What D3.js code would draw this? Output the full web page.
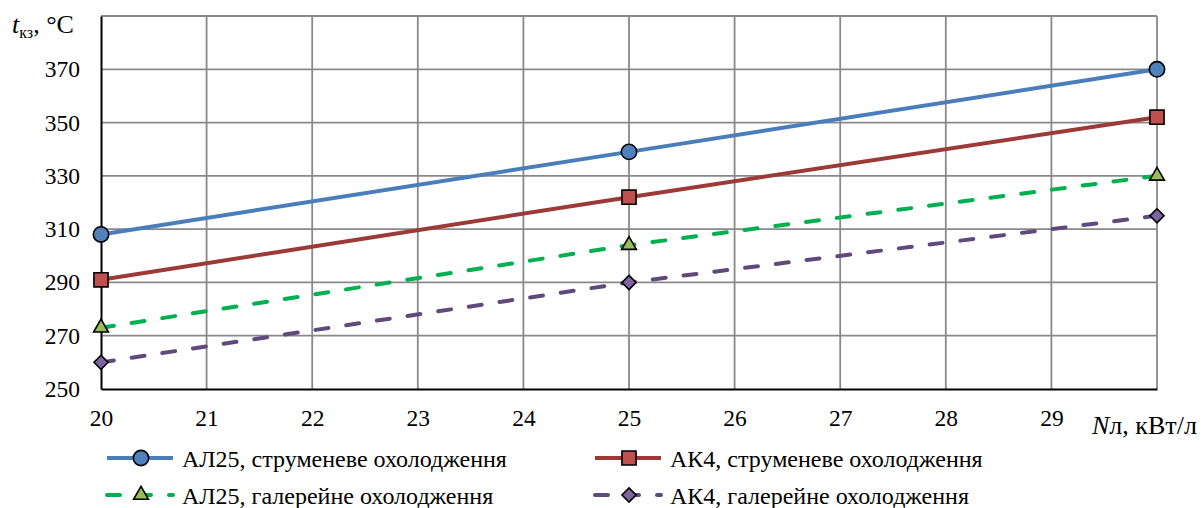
<!DOCTYPE html>
<html>
<head>
<meta charset="utf-8">
<script src="https://cdn.jsdelivr.net/npm/d3@7"></script>
<style>
  html, body { margin: 0; padding: 0; background: #fff; }
  svg text { font-family: "Liberation Serif", "Times New Roman", serif; fill: #000; }
</style>
</head>
<body>
<svg id="chart" width="1203" height="508"></svg>
<script>
// Power per litre, kW/l
const powerValues = [20, 25, 30];
// Piston temperature, °C
const al25Jet = [308, 339, 370];
const ak4Jet = [291, 322, 352];
const al25Gallery = [273, 304, 330];
const ak4Gallery = [260, 290, 315];

const xTicks = [20, 21, 22, 23, 24, 25, 26, 27, 28, 29];
const xGrid = [21, 22, 23, 24, 25, 26, 27, 28, 29, 30];
const yTicks = [250, 270, 290, 310, 330, 350, 370];
const yGrid = [270, 290, 310, 330, 350, 370, 390];

const seriesNames = [
  "АЛ25, струменеве охолодження",
  "АК4, струменеве охолодження",
  "АЛ25, галерейне охолодження",
  "АК4, галерейне охолодження"
];

// Rotated square (equal-diagonal diamond)
const symbolRhomb = {
  draw(context, size) {
    const r = Math.sqrt(size / 2);
    context.moveTo(0, -r);
    context.lineTo(r, 0);
    context.lineTo(0, r);
    context.lineTo(-r, 0);
    context.closePath();
  }
};

const DASH = "13,18";
const series = [
  { name: seriesNames[0], values: al25Jet, line: "#4A7EBB", fill: "#4F81BD", dash: null, symbol: d3.symbolCircle, size: 185 },
  { name: seriesNames[1], values: ak4Jet, line: "#9B3A37", fill: "#C0504D", dash: null, symbol: d3.symbolSquare, size: 200 },
  { name: seriesNames[2], values: al25Gallery, line: "#00B050", fill: "#9BBB59", dash: DASH, symbol: d3.symbolTriangle, size: 95 },
  { name: seriesNames[3], values: ak4Gallery, line: "#604A7B", fill: "#8064A2", dash: DASH, symbol: symbolRhomb, size: 100 }
];

const svg = d3.select("#chart");
const x = d3.scaleLinear().domain([20, 30]).range([101, 1157]);
const y = d3.scaleLinear().domain([250, 390]).range([389, 16]);

// Grid
svg.append("g").selectAll("line").data(yGrid).join("line")
  .attr("x1", x(20)).attr("x2", x(30))
  .attr("y1", d => y(d)).attr("y2", d => y(d))
  .attr("stroke", "#898989").attr("stroke-width", 1.8);
svg.append("g").selectAll("line").data(xGrid).join("line")
  .attr("x1", d => x(d)).attr("x2", d => x(d))
  .attr("y1", y(250)).attr("y2", y(390))
  .attr("stroke", "#898989").attr("stroke-width", 1.8);

// Axes
const yAxis = d3.axisLeft(y).tickValues(yTicks).tickSize(0).tickPadding(21).tickFormat(d3.format("d"));
const gy = svg.append("g").attr("transform", `translate(${x(20)},0)`).call(yAxis);
gy.select(".domain").attr("stroke", "#000").attr("stroke-width", 2);
gy.selectAll("text").attr("font-size", 23.5);

const xAxis = d3.axisBottom(x).tickValues(xTicks).tickSize(0).tickPadding(20).tickFormat(d3.format("d"));
const gx = svg.append("g").attr("transform", `translate(0,${y(250)})`).call(xAxis);
gx.select(".domain").attr("stroke", "#000").attr("stroke-width", 2);
gx.selectAll("text").attr("font-size", 23.5);

// Axis titles
const yTitle = svg.append("text").attr("x", 12).attr("y", 33).attr("font-size", 26);
yTitle.append("tspan").attr("font-style", "italic").text("t");
yTitle.append("tspan").attr("font-size", 16).attr("dy", 5).text("кз");
yTitle.append("tspan").attr("dy", -5).text(", °C");

const xTitle = svg.append("text").attr("x", 1092).attr("y", 434).attr("font-size", 26);
xTitle.append("tspan").attr("font-style", "italic").text("N");
xTitle.append("tspan").text("л, кВт/л");

// Lines and markers
const line = d3.line().x((d, i) => x(powerValues[i])).y(d => y(d));
series.forEach(s => {
  svg.append("path").datum(s.values)
    .attr("d", line)
    .attr("fill", "none")
    .attr("stroke", s.line)
    .attr("stroke-width", 4)
    .attr("stroke-linecap", s.dash ? "round" : "butt")
    .attr("stroke-dasharray", s.dash);
});
series.forEach(s => {
  svg.append("g").selectAll("path").data(s.values).join("path")
    .attr("d", d3.symbol().type(s.symbol).size(s.size))
    .attr("transform", (d, i) => `translate(${x(powerValues[i])},${y(d)})`)
    .attr("fill", s.fill)
    .attr("stroke", "#000")
    .attr("stroke-width", 1.6);
});

// Legend
const legendPos = [[105, 458], [593, 458], [105, 495], [593, 495]];
series.forEach((s, i) => {
  const [lx, ly] = legendPos[i];
  const g = svg.append("g").attr("transform", `translate(${lx},${ly})`);
  g.append("line").attr("x1", 2).attr("x2", 68).attr("y1", 0).attr("y2", 0)
    .attr("stroke", s.line).attr("stroke-width", 4)
    .attr("stroke-linecap", s.dash ? "round" : "butt")
    .attr("stroke-dasharray", s.dash);
  g.append("path").attr("d", d3.symbol().type(s.symbol).size(s.size))
    .attr("transform", "translate(36,0)")
    .attr("fill", s.fill).attr("stroke", "#000").attr("stroke-width", 1.6);
  g.append("text").attr("x", 77).attr("y", 9).attr("font-size", 24).text(s.name);
});
</script>
</body>
</html>
